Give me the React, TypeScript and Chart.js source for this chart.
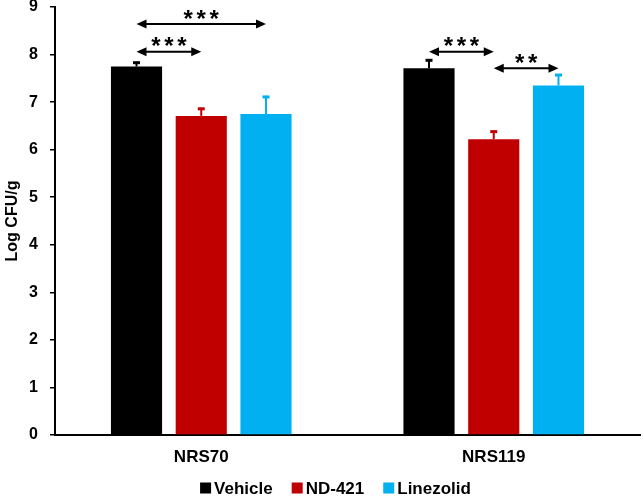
import React, { useEffect, useRef } from "react";
import { Chart, registerables } from "chart.js";

Chart.register(...registerables);

const categories = ["NRS70", "NRS119"];
const seriesNames = ["Vehicle", "ND-421", "Linezolid"];
const vehicle = [7.75, 7.71];
const vehicleErr = [0.1, 0.19];
const nd421 = [6.71, 6.22];
const nd421Err = [0.17, 0.18];
const linezolid = [6.75, 7.35];
const linezolidErr = [0.38, 0.24];
const colors = ["#000000", "#C00000", "#00B0F0"];
const yTicks = [0, 1, 2, 3, 4, 5, 6, 7, 8, 9];

// significance brackets: category index, from-series, to-series, level (y value), label
const sigCategory = [0, 0, 1, 1];
const sigFrom = [0, 0, 0, 1];
const sigTo = [2, 1, 1, 2];
const sigLevel = [8.64, 8.06, 8.06, 7.71];
const sigLabel = ["***", "***", "***", "**"];

const FONT = "'Liberation Sans', Arial, sans-serif";

const errorBarPlugin = {
  id: "errorBars",
  afterDatasetsDraw(chart: any) {
    const ctx = chart.ctx;
    const yScale = chart.scales.y;
    chart.data.datasets.forEach((ds: any, di: number) => {
      const meta = chart.getDatasetMeta(di);
      meta.data.forEach((el: any, i: number) => {
        const v = ds.data[i];
        const e = ds.errors[i];
        const yTop = yScale.getPixelForValue(v + e);
        ctx.save();
        ctx.strokeStyle = ds.backgroundColor;
        ctx.lineWidth = 2;
        ctx.beginPath();
        ctx.moveTo(el.x, el.y);
        ctx.lineTo(el.x, yTop);
        ctx.stroke();
        ctx.lineWidth = 3;
        ctx.beginPath();
        ctx.moveTo(el.x - 3.5, yTop + 1);
        ctx.lineTo(el.x + 3.5, yTop + 1);
        ctx.stroke();
        ctx.restore();
      });
    });
  },
};

const sigPlugin = {
  id: "sigArrows",
  afterDatasetsDraw(chart: any) {
    const ctx = chart.ctx;
    const yScale = chart.scales.y;
    for (let k = 0; k < sigLevel.length; k++) {
      const c = sigCategory[k];
      const x1 = chart.getDatasetMeta(sigFrom[k]).data[c].x;
      const x2 = chart.getDatasetMeta(sigTo[k]).data[c].x;
      const y = yScale.getPixelForValue(sigLevel[k]);
      const head = 10;
      const hh = 4.5;
      ctx.save();
      ctx.strokeStyle = "#000";
      ctx.fillStyle = "#000";
      ctx.lineWidth = 2;
      ctx.beginPath();
      ctx.moveTo(x1 + head - 1, y);
      ctx.lineTo(x2 - head + 1, y);
      ctx.stroke();
      ctx.beginPath();
      ctx.moveTo(x1, y);
      ctx.lineTo(x1 + head, y - hh);
      ctx.lineTo(x1 + head, y + hh);
      ctx.closePath();
      ctx.fill();
      ctx.beginPath();
      ctx.moveTo(x2, y);
      ctx.lineTo(x2 - head, y - hh);
      ctx.lineTo(x2 - head, y + hh);
      ctx.closePath();
      ctx.fill();
      const label = sigLabel[k];
      const n = label.length;
      const spacing = 13;
      const cx = (x1 + x2) / 2;
      ctx.font = "bold 24px 'Liberation Sans', Arial, sans-serif";
      ctx.textAlign = "center";
      ctx.textBaseline = "alphabetic";
      for (let j = 0; j < n; j++) {
        const ax = cx + (j - (n - 1) / 2) * spacing;
        ctx.fillText(label[j], ax, y - 11 + 13.5);
      }
      ctx.restore();
    }
  },
};

const legendPlugin = {
  id: "customLegend",
  afterDraw(chart: any) {
    const ctx = chart.ctx;
    const area = chart.chartArea;
    ctx.save();
    ctx.font = "bold 17px 'Liberation Sans', Arial, sans-serif";
    ctx.textBaseline = "middle";
    ctx.textAlign = "left";
    const box = 11;
    const gapBoxText = 3;
    const gapItems = 19;
    const items = chart.data.datasets.map((ds: any) => ({
      label: ds.label,
      color: ds.backgroundColor,
      w: ctx.measureText(ds.label).width,
    }));
    const total =
      items.reduce((s: number, it: any) => s + box + gapBoxText + it.w, 0) +
      gapItems * (items.length - 1);
    let x = (area.left + area.right) / 2 - 12 - total / 2;
    const cy = chart.height - 9;
    items.forEach((it: any) => {
      ctx.fillStyle = it.color;
      ctx.fillRect(x, cy - box / 2, box, box);
      x += box + gapBoxText;
      ctx.fillStyle = "#000";
      ctx.fillText(it.label, x, cy + 1);
      x += it.w + gapItems;
    });
    ctx.restore();
  },
};

export default function App() {
  const ref = useRef<HTMLCanvasElement>(null);
  useEffect(() => {
    if (!ref.current) return;
    Chart.defaults.font.family = FONT;
    const errs = [vehicleErr, nd421Err, linezolidErr];
    const vals = [vehicle, nd421, linezolid];
    const chart = new Chart(ref.current, {
      type: "bar",
      data: {
        labels: categories,
        datasets: seriesNames.map((name, i) => ({
          label: name,
          data: vals[i],
          errors: errs[i],
          backgroundColor: colors[i],
          borderWidth: 0,
          categoryPercentage: 0.664,
          barPercentage: 0.79,
        })) as any,
      },
      options: {
        responsive: false,
        animation: false,
        layout: { padding: { top: 0, right: 4, left: 0, bottom: 28 } },
        plugins: {
          tooltip: { enabled: false },
          legend: { display: false },
        },
        scales: {
          x: {
            afterFit: (axis: any) => {
              axis.height = 34;
            },
            grid: { display: false },
            border: { display: true, color: "#000", width: 2 },
            ticks: {
              color: "#000",
              padding: 4,
              font: { family: FONT, size: 17, weight: "bold" },
            },
          },
          y: {
            min: 0,
            max: 9,
            afterBuildTicks: (axis: any) => {
              axis.ticks = yTicks.map((v) => ({ value: v }));
            },
            afterFit: (axis: any) => {
              axis.width = 55;
              axis.paddingTop = 7;
              axis.paddingBottom = 0;
            },
            grid: {
              display: true,
              drawOnChartArea: false,
              drawTicks: true,
              tickLength: 5,
              color: "#000",
              lineWidth: 1.5,
            },
            border: { display: true, color: "#000", width: 2 },
            ticks: {
              color: "#000",
              padding: 12,
              font: { family: FONT, size: 16, weight: "bold" },
            },
            title: {
              display: true,
              text: "Log CFU/g",
              color: "#000",
              padding: { top: 3, bottom: 0 },
              font: { family: FONT, size: 16, weight: "bold" },
            },
          },
        },
      },
      plugins: [errorBarPlugin, sigPlugin, legendPlugin],
    });
    return () => chart.destroy();
  }, []);
  return (
    <canvas
      ref={ref}
      width={644}
      height={497}
      style={{ position: "absolute", left: 0, top: 0, background: "#fff" }}
    />
  );
}
